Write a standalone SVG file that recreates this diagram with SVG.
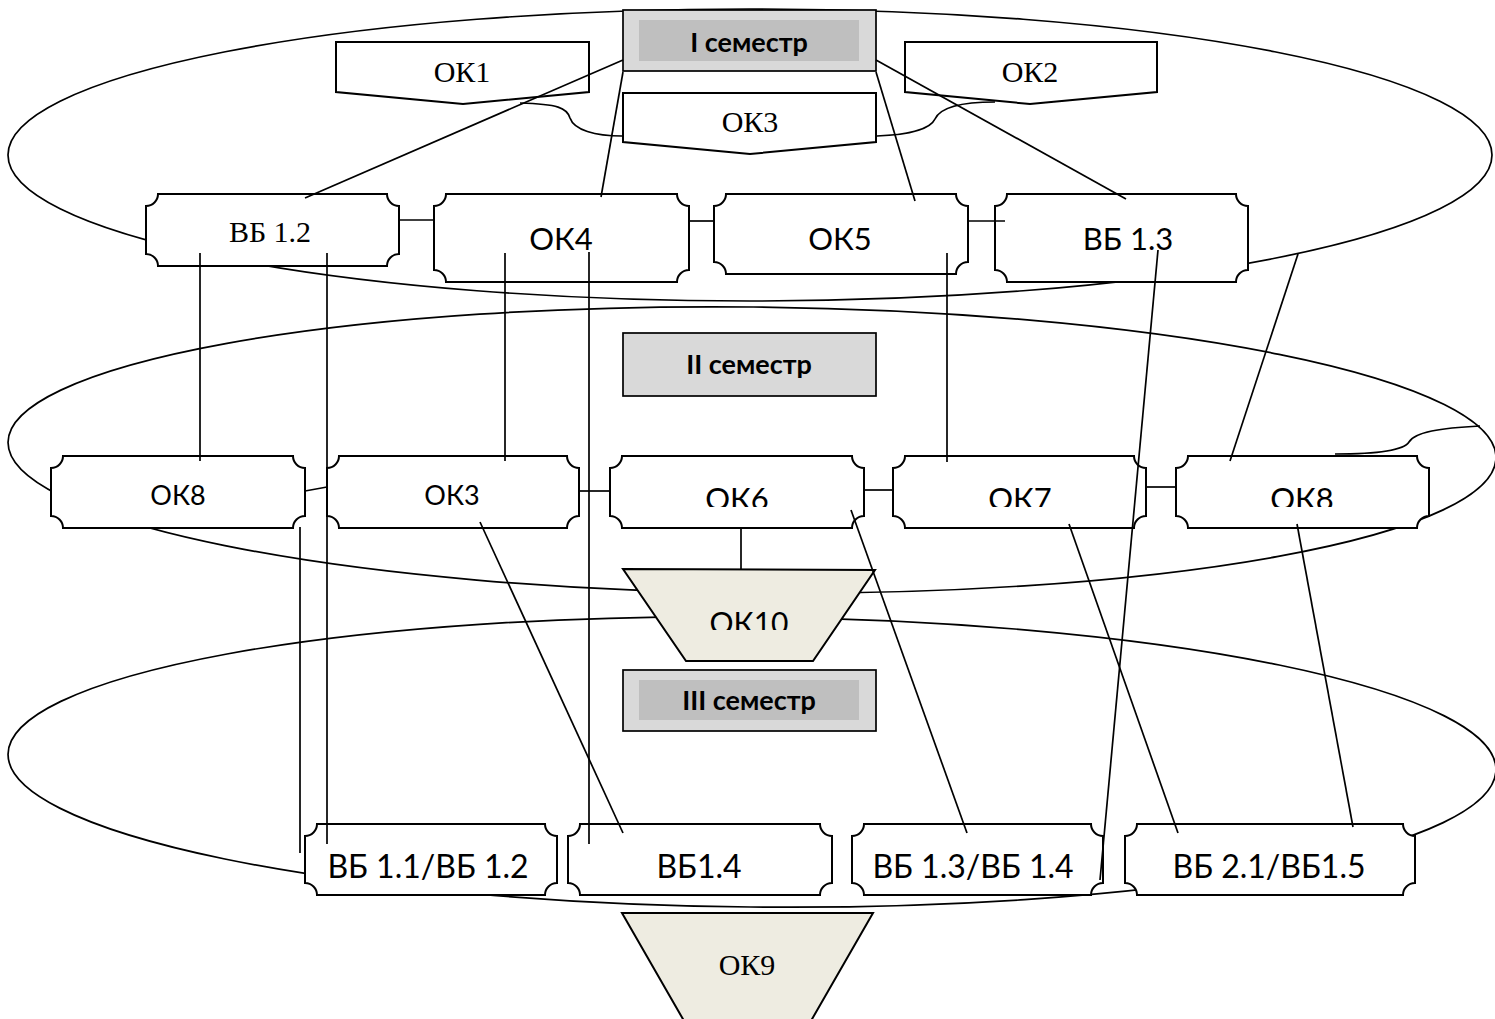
<svg xmlns="http://www.w3.org/2000/svg" width="1495" height="1019" viewBox="0 0 1495 1019">
<style>
.ell{fill:none;stroke:#000;stroke-width:1.7}
.box{fill:#fff;stroke:#000;stroke-width:2}
.hdr{fill:#d9d9d9;stroke:#000;stroke-width:1.7}
.hin{fill:#bfbfbf;stroke:none}
.trap{fill:#eeece1;stroke:#000;stroke-width:2}
.ln{fill:none;stroke:#000;stroke-width:1.7}
.serif{font-family:"Liberation Serif","Times New Roman",serif;font-size:30px;fill:#000;text-anchor:middle}
.sans{font-family:Lato,"Open Sans",sans-serif;fill:#000;text-anchor:middle}
.hb{font-family:Lato,"Open Sans",sans-serif;font-weight:bold;font-size:27px;fill:#000;text-anchor:middle}
</style>
<defs>
<clipPath id="c2" clipPathUnits="userSpaceOnUse"><rect x="0" y="440" width="1495" height="67"/></clipPath>
<clipPath id="c10" clipPathUnits="userSpaceOnUse"><rect x="600" y="590" width="300" height="40"/></clipPath>
</defs>
<g id="ellipses">
<ellipse class="ell" cx="750" cy="155" rx="742" ry="146"/>
<ellipse class="ell" cx="752" cy="450" rx="744" ry="143" transform="rotate(0.6 752 450)"/>
<ellipse class="ell" cx="752" cy="762" rx="744" ry="145" transform="rotate(0.6 752 762)"/>
</g>
<g id="sem1"><rect class="hdr" x="623" y="10" width="253" height="61"/><rect class="hin" x="639" y="20" width="220" height="41"/><text class="hb" x="749" y="52">I семестр</text></g>
<g id="sem2"><rect class="hdr" x="623" y="333" width="253" height="63"/><text class="hb" x="749" y="374">II семестр</text></g>
<g id="sem3"><rect class="hdr" x="623" y="670" width="253" height="61"/><rect class="hin" x="639" y="680" width="220" height="40"/><text class="hb" x="749" y="710">III семестр</text></g>
<g id="ok1"><polygon class="box" points="336,42 589,42 589,92 463,104 336,92"/><text class="serif" x="462" y="82">ОК1</text></g>
<g id="ok2"><polygon class="box" points="905,42 1157,42 1157,92 1030,104 905,92"/><text class="serif" x="1030" y="82">ОК2</text></g>
<g id="ok3top"><polygon class="box" points="623,93 876,93 876,142 750,154 623,142"/><text class="serif" x="750" y="132">ОК3</text></g>
<g id="vb12"><path class="box" d="M158,194 H387 A12 12 0 0 0 399,206 V254 A12 12 0 0 0 387,266 H158 A12 12 0 0 0 146,254 V206 A12 12 0 0 0 158,194 Z"/><text class="serif" x="270" y="242">ВБ 1.2</text></g>
<g id="ok4"><path class="box" d="M446,194 H677 A12 12 0 0 0 689,206 V270 A12 12 0 0 0 677,282 H446 A12 12 0 0 0 434,270 V206 A12 12 0 0 0 446,194 Z"/><text class="sans" font-size="31" x="561" y="250">ОК4</text></g>
<g id="ok5"><path class="box" d="M726,194 H956 A12 12 0 0 0 968,206 V262 A12 12 0 0 0 956,274 H726 A12 12 0 0 0 714,262 V206 A12 12 0 0 0 726,194 Z"/><text class="sans" font-size="31" x="840" y="250">ОК5</text></g>
<g id="vb13"><path class="box" d="M1007,194 H1236 A12 12 0 0 0 1248,206 V270 A12 12 0 0 0 1236,282 H1007 A12 12 0 0 0 995,270 V206 A12 12 0 0 0 1007,194 Z"/><text class="sans" font-size="31" x="1128" y="250">ВБ 1.3</text></g>
<g id="ok8a"><path class="box" d="M63,456 H293 A12 12 0 0 0 305,468 V516 A12 12 0 0 0 293,528 H63 A12 12 0 0 0 51,516 V468 A12 12 0 0 0 63,456 Z"/><text class="sans" font-size="27" x="178" y="505">ОК8</text></g>
<g id="ok3"><path class="box" d="M339,456 H567 A12 12 0 0 0 579,468 V516 A12 12 0 0 0 567,528 H339 A12 12 0 0 0 327,516 V468 A12 12 0 0 0 339,456 Z"/><text class="sans" font-size="27" x="452" y="505">ОК3</text></g>
<g id="ok6"><path class="box" d="M622,456 H852 A12 12 0 0 0 864,468 V516 A12 12 0 0 0 852,528 H622 A12 12 0 0 0 610,516 V468 A12 12 0 0 0 622,456 Z"/><text class="sans" font-size="31" x="737" y="510" clip-path="url(#c2)">ОК6</text></g>
<g id="ok7"><path class="box" d="M905,456 H1134 A12 12 0 0 0 1146,468 V516 A12 12 0 0 0 1134,528 H905 A12 12 0 0 0 893,516 V468 A12 12 0 0 0 905,456 Z"/><text class="sans" font-size="31" x="1020" y="510" clip-path="url(#c2)">ОК7</text></g>
<g id="ok8b"><path class="box" d="M1188,456 H1417 A12 12 0 0 0 1429,468 V516 A12 12 0 0 0 1417,528 H1188 A12 12 0 0 0 1176,516 V468 A12 12 0 0 0 1188,456 Z"/><text class="sans" font-size="31" x="1302" y="510" clip-path="url(#c2)">ОК8</text></g>
<g id="ok10"><polygon class="trap" points="623,569 875,570 813,661 686,661"/><text class="sans" font-size="30" x="749" y="634" clip-path="url(#c10)">ОК10</text></g>
<g id="vb11"><path class="box" d="M317,824 H545 A12 12 0 0 0 557,836 V883 A12 12 0 0 0 545,895 H317 A12 12 0 0 0 305,883 V836 A12 12 0 0 0 317,824 Z"/><text class="sans" font-size="32" x="428" y="878">ВБ 1.1/ВБ 1.2</text></g>
<g id="vb14"><path class="box" d="M580,824 H820 A12 12 0 0 0 832,836 V883 A12 12 0 0 0 820,895 H580 A12 12 0 0 0 568,883 V836 A12 12 0 0 0 580,824 Z"/><text class="sans" font-size="32" x="699" y="878">ВБ1.4</text></g>
<g id="vb1314"><path class="box" d="M864,824 H1091 A12 12 0 0 0 1103,836 V883 A12 12 0 0 0 1091,895 H864 A12 12 0 0 0 852,883 V836 A12 12 0 0 0 864,824 Z"/><text class="sans" font-size="32" x="973" y="878">ВБ 1.3/ВБ 1.4</text></g>
<g id="vb21"><path class="box" d="M1137,824 H1403 A12 12 0 0 0 1415,836 V883 A12 12 0 0 0 1403,895 H1137 A12 12 0 0 0 1125,883 V836 A12 12 0 0 0 1137,824 Z"/><text class="sans" font-size="32" x="1269" y="878">ВБ 2.1/ВБ1.5</text></g>
<g id="ok9"><polygon class="trap" points="622,913 873,913 800,1040 695,1040"/><text class="serif" x="747" y="975">ОК9</text></g>
<g id="connectors">
<path class="ln" d="M520,103 C558,104 567,108 570,118 C574,130 595,136 622,136"/>
<path class="ln" d="M877,136 C905,135 930,130 935,119 C940,108 960,102 995,102"/>
<path class="ln" d="M1335,454 C1380,454 1404,450 1409,442 C1415,432 1440,428 1480,426"/>
<line class="ln" x1="623" y1="60" x2="305" y2="198"/>
<line class="ln" x1="623" y1="72" x2="601" y2="197"/>
<line class="ln" x1="876" y1="72" x2="915" y2="201"/>
<line class="ln" x1="876" y1="60" x2="1126" y2="199"/>
<line class="ln" x1="399" y1="220" x2="434" y2="220"/>
<line class="ln" x1="689" y1="221" x2="714" y2="221"/>
<line class="ln" x1="968" y1="221" x2="1005" y2="221"/>
<line class="ln" x1="305" y1="491" x2="327" y2="487"/>
<line class="ln" x1="579" y1="491" x2="610" y2="491"/>
<line class="ln" x1="864" y1="490" x2="893" y2="490"/>
<line class="ln" x1="1146" y1="487" x2="1176" y2="487"/>
<line class="ln" x1="200" y1="253" x2="200" y2="461"/>
<line class="ln" x1="327" y1="253" x2="327" y2="844"/>
<line class="ln" x1="505" y1="253" x2="505" y2="461"/>
<line class="ln" x1="589" y1="252" x2="589" y2="844"/>
<line class="ln" x1="947" y1="253" x2="947" y2="462"/>
<line class="ln" x1="1158" y1="250" x2="1100" y2="880"/>
<line class="ln" x1="1298" y1="254" x2="1230" y2="461"/>
<line class="ln" x1="300" y1="527" x2="300" y2="853"/>
<line class="ln" x1="480" y1="522" x2="623" y2="833"/>
<line class="ln" x1="851" y1="510" x2="967" y2="833"/>
<line class="ln" x1="1069" y1="524" x2="1178" y2="833"/>
<line class="ln" x1="1297" y1="524" x2="1353" y2="827"/>
<line class="ln" x1="741" y1="528" x2="741" y2="569"/>
</g>
</svg>
